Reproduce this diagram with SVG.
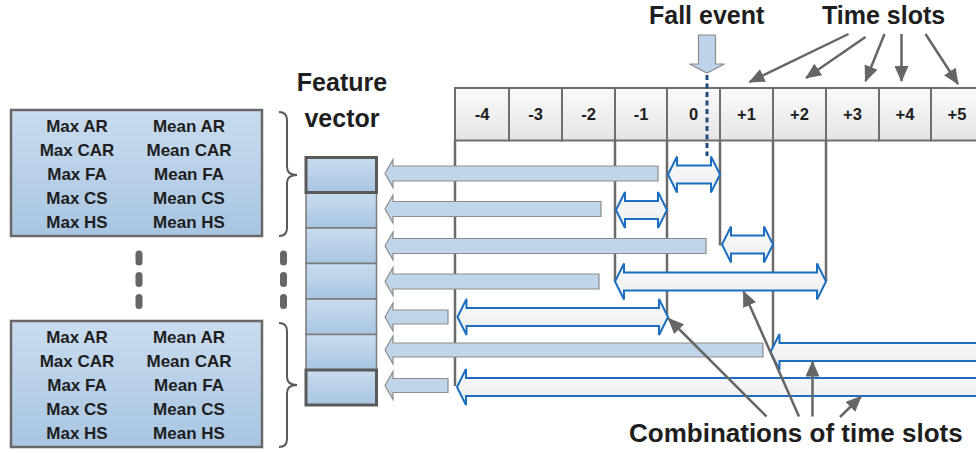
<svg xmlns="http://www.w3.org/2000/svg" width="976" height="453" viewBox="0 0 976 453">
  <style>
    text { font-family: "Liberation Sans", Arial, sans-serif; font-weight: bold; fill: #1e1e1e; }
    .title { font-size: 25px; }
    .feat { font-size: 17px; text-anchor: middle; }
    .slot { font-size: 16.5px; text-anchor: middle; }
    .box { fill: url(#boxGrad); stroke: #686868; stroke-width: 2.5; }
    .cell { fill: url(#cellGrad); stroke: #6e6e6e; stroke-width: 2; }
    .vec { fill: url(#boxGrad); stroke: #7a7a7a; stroke-width: 1.5; }
    .vec-hi { fill: url(#boxGrad); stroke: #5a5a5a; stroke-width: 3; }
    .brace { fill: none; stroke: #5a5a5a; stroke-width: 2; }
    .dot { fill: #666; }
    .guide { stroke: #6b6b6b; stroke-width: 2.5; }
    .out { fill: #bfd5ea; stroke: #8c8c8c; stroke-width: 1.2; }
    .span { fill: url(#spanGrad); stroke: #1c6fc0; stroke-width: 2; }
    .ptr { stroke: #666; stroke-width: 2.5; fill: none; marker-end: url(#head); }
  </style>
  <defs>
    <linearGradient id="boxGrad" x1="0" y1="0" x2="0" y2="1">
      <stop offset="0" stop-color="#c9dcef"/>
      <stop offset="1" stop-color="#a8c5e1"/>
    </linearGradient>
    <linearGradient id="cellGrad" x1="0" y1="0" x2="0" y2="1">
      <stop offset="0" stop-color="#fbfbfb"/>
      <stop offset="1" stop-color="#e4e4e4"/>
    </linearGradient>
    <linearGradient id="spanGrad" x1="0" y1="0" x2="0" y2="1">
      <stop offset="0" stop-color="#f8f9fa"/>
      <stop offset="1" stop-color="#eceef1"/>
    </linearGradient>
    <marker id="head" viewBox="0 0 16 14" refX="15" refY="7" markerWidth="16" markerHeight="14" markerUnits="userSpaceOnUse" orient="auto">
      <path d="M0,0 L16,7 L0,14 Z" fill="#666"/>
    </marker>
  </defs>

  <!-- titles -->
  <text class="title" x="649" y="24">Fall event</text>
  <text class="title" x="822" y="24">Time slots</text>
  <text class="title" x="342" y="91" text-anchor="middle">Feature</text>
  <text class="title" x="342" y="127" text-anchor="middle">vector</text>
  <text class="title" x="629" y="442" style="font-size:26px">Combinations of time slots</text>

  <!-- feature group box 1 -->
  <g id="features-top">
    <rect class="box" x="11" y="110" width="251" height="126"/>
    <text class="feat" x="77" y="132">Max AR</text>
    <text class="feat" x="189" y="132">Mean AR</text>
    <text class="feat" x="77" y="156">Max CAR</text>
    <text class="feat" x="189" y="156">Mean CAR</text>
    <text class="feat" x="77" y="180">Max FA</text>
    <text class="feat" x="189" y="180">Mean FA</text>
    <text class="feat" x="77" y="204">Max CS</text>
    <text class="feat" x="189" y="204">Mean CS</text>
    <text class="feat" x="77" y="228">Max HS</text>
    <text class="feat" x="189" y="228">Mean HS</text>
  </g>

  <!-- feature group box 2 -->
  <g id="features-bottom">
    <rect class="box" x="11" y="321" width="251" height="126"/>
    <text class="feat" x="77" y="343">Max AR</text>
    <text class="feat" x="189" y="343">Mean AR</text>
    <text class="feat" x="77" y="367">Max CAR</text>
    <text class="feat" x="189" y="367">Mean CAR</text>
    <text class="feat" x="77" y="391">Max FA</text>
    <text class="feat" x="189" y="391">Mean FA</text>
    <text class="feat" x="77" y="415">Max CS</text>
    <text class="feat" x="189" y="415">Mean CS</text>
    <text class="feat" x="77" y="439">Max HS</text>
    <text class="feat" x="189" y="439">Mean HS</text>
  </g>

  <!-- braces -->
  <g id="braces">
    <path class="brace" d="M279,112 Q287,112 287,120 L287,167 Q287,175 297,175 Q287,175 287,183 L287,228 Q287,236 279,236"/>
    <path class="brace" d="M279,323 Q287,323 287,331 L287,377 Q287,385 297,385 Q287,385 287,393 L287,439 Q287,447 279,447"/>
  </g>

  <!-- vertical ellipses -->
  <g id="ellipsis">
    <rect class="dot" x="135.5" y="250.5" width="7" height="15" rx="3.5"/>
    <rect class="dot" x="135.5" y="272" width="7" height="15" rx="3.5"/>
    <rect class="dot" x="135.5" y="294" width="7" height="15" rx="3.5"/>
    <rect class="dot" x="280" y="250.5" width="7" height="15" rx="3.5"/>
    <rect class="dot" x="280" y="272" width="7" height="15" rx="3.5"/>
    <rect class="dot" x="280" y="294" width="7" height="15" rx="3.5"/>
  </g>

  <!-- feature vector -->
  <g id="feature-vector">
    <rect class="vec" x="306" y="192.5" width="70.5" height="35.5"/>
    <rect class="vec" x="306" y="228" width="70.5" height="35.5"/>
    <rect class="vec" x="306" y="263.5" width="70.5" height="35.5"/>
    <rect class="vec" x="306" y="299" width="70.5" height="35.5"/>
    <rect class="vec" x="306" y="334.5" width="70.5" height="35.5"/>
    <rect class="vec-hi" x="306" y="157.5" width="70.5" height="35"/>
    <rect class="vec-hi" x="306" y="370" width="70.5" height="35"/>
  </g>

  <!-- time slot row -->
  <g id="time-slots">
    <rect class="cell" x="455" y="88" width="54" height="52.5"/>
    <rect class="cell" x="509" y="88" width="53" height="52.5"/>
    <rect class="cell" x="562" y="88" width="53" height="52.5"/>
    <rect class="cell" x="615" y="88" width="52" height="52.5"/>
    <rect class="cell" x="667" y="88" width="53" height="52.5"/>
    <rect class="cell" x="720" y="88" width="53" height="52.5"/>
    <rect class="cell" x="773" y="88" width="53" height="52.5"/>
    <rect class="cell" x="826" y="88" width="53" height="52.5"/>
    <rect class="cell" x="879" y="88" width="52" height="52.5"/>
    <rect class="cell" x="931" y="88" width="60" height="52.5"/>
    <text class="slot" x="482" y="120">-4</text>
    <text class="slot" x="535.5" y="120">-3</text>
    <text class="slot" x="588.5" y="120">-2</text>
    <text class="slot" x="641" y="120">-1</text>
    <text class="slot" x="693.5" y="120">0</text>
    <text class="slot" x="746.5" y="120">+1</text>
    <text class="slot" x="799.5" y="120">+2</text>
    <text class="slot" x="852.5" y="120">+3</text>
    <text class="slot" x="905" y="120">+4</text>
    <text class="slot" x="957" y="120">+5</text>
  </g>

  <!-- fall event marker -->
  <g id="fall-event">
    <path d="M698.5,35 L715.5,35 L715.5,64 L724.5,64 L707,73 L689.5,64 L698.5,64 Z" fill="#bcd3ea" stroke="#8c8c8c" stroke-width="1.2"/>
    <line x1="707" y1="75" x2="707" y2="156" stroke="#1f4e7a" stroke-width="3" stroke-dasharray="5,3.5"/>
  </g>

  <!-- connectors -->
  <g id="connectors">
    <!-- slot boundary guides -->
    <line class="guide" x1="455" y1="140" x2="455" y2="386"/>
    <line class="guide" x1="615" y1="140" x2="615" y2="281.5"/>
    <line class="guide" x1="667" y1="140" x2="667" y2="317"/>
    <line class="guide" x1="720" y1="140" x2="720" y2="245.5"/>
    <line class="guide" x1="773" y1="140" x2="773" y2="351"/>
    <line class="guide" x1="826" y1="140" x2="826" y2="281.5"/>

    <!-- outputs into the feature vector -->
    <path class="out" d="M385,173.5 L393,159.5 L393,166 L658,166 L658,181 L393,181 L393,187.5 Z"/>
    <path class="out" d="M385,209 L393,195 L393,201.5 L601,201.5 L601,216.5 L393,216.5 L393,223 Z"/>
    <path class="out" d="M385,246 L393,232 L393,238.5 L706,238.5 L706,253.5 L393,253.5 L393,260 Z"/>
    <path class="out" d="M385,281.5 L393,267.5 L393,274 L599,274 L599,289 L393,289 L393,295.5 Z"/>
    <path class="out" d="M385,317 L393,303 L393,310 L448,310 L448,324 L393,324 L393,331 Z"/>
    <path class="out" d="M385,350 L393,336 L393,343 L763,343 L763,357 L393,357 L393,364 Z"/>
    <path class="out" d="M385,385.5 L393,371.5 L393,378.5 L448,378.5 L448,392.5 L393,392.5 L393,399.5 Z"/>

    <!-- time slot combinations -->
    <path class="span" d="M668,174.5 L677,156.5 L677,165.5 L711,165.5 L711,156.5 L720,174.5 L711,192.5 L711,183.5 L677,183.5 L677,192.5 Z"/>
    <path class="span" d="M616,210 L625,192 L625,201 L658,201 L658,192 L667,210 L658,228 L658,219 L625,219 L625,228 Z"/>
    <path class="span" d="M722,244.5 L731,226.5 L731,235.5 L764,235.5 L764,226.5 L773,244.5 L764,262.5 L764,253.5 L731,253.5 L731,262.5 Z"/>
    <path class="span" d="M615,281.5 L624,263.5 L624,272.5 L817,272.5 L817,263.5 L826,281.5 L817,299.5 L817,290.5 L624,290.5 L624,299.5 Z"/>
    <path class="span" d="M457.5,317 L466.5,299 L466.5,308 L659,308 L659,299 L668,317 L659,335 L659,326 L466.5,326 L466.5,335 Z"/>
    <path class="span" d="M770.5,352 L779.5,334 L779.5,343 L1000,343 L1000,361 L779.5,361 L779.5,370 Z"/>
    <path class="span" d="M457,387 L466,369 L466,378 L1000,378 L1000,396 L466,396 L466,405 Z"/>

    <!-- label pointers: time slots -->
    <line class="ptr" x1="848.5" y1="34" x2="749.5" y2="82"/>
    <line class="ptr" x1="865.5" y1="37" x2="806" y2="78"/>
    <line class="ptr" x1="884.5" y1="34" x2="865.5" y2="81"/>
    <line class="ptr" x1="901.5" y1="34" x2="901.5" y2="81"/>
    <line class="ptr" x1="925.5" y1="34" x2="958" y2="84"/>

    <!-- label pointers: combinations -->
    <line class="ptr" x1="766.5" y1="416.5" x2="668.5" y2="318.5"/>
    <line class="ptr" x1="799" y1="416.5" x2="743.5" y2="291.5"/>
    <line class="ptr" x1="812.5" y1="416.5" x2="812.5" y2="361.5"/>
    <line class="ptr" x1="840" y1="417" x2="861" y2="396.5"/>
  </g>
</svg>
